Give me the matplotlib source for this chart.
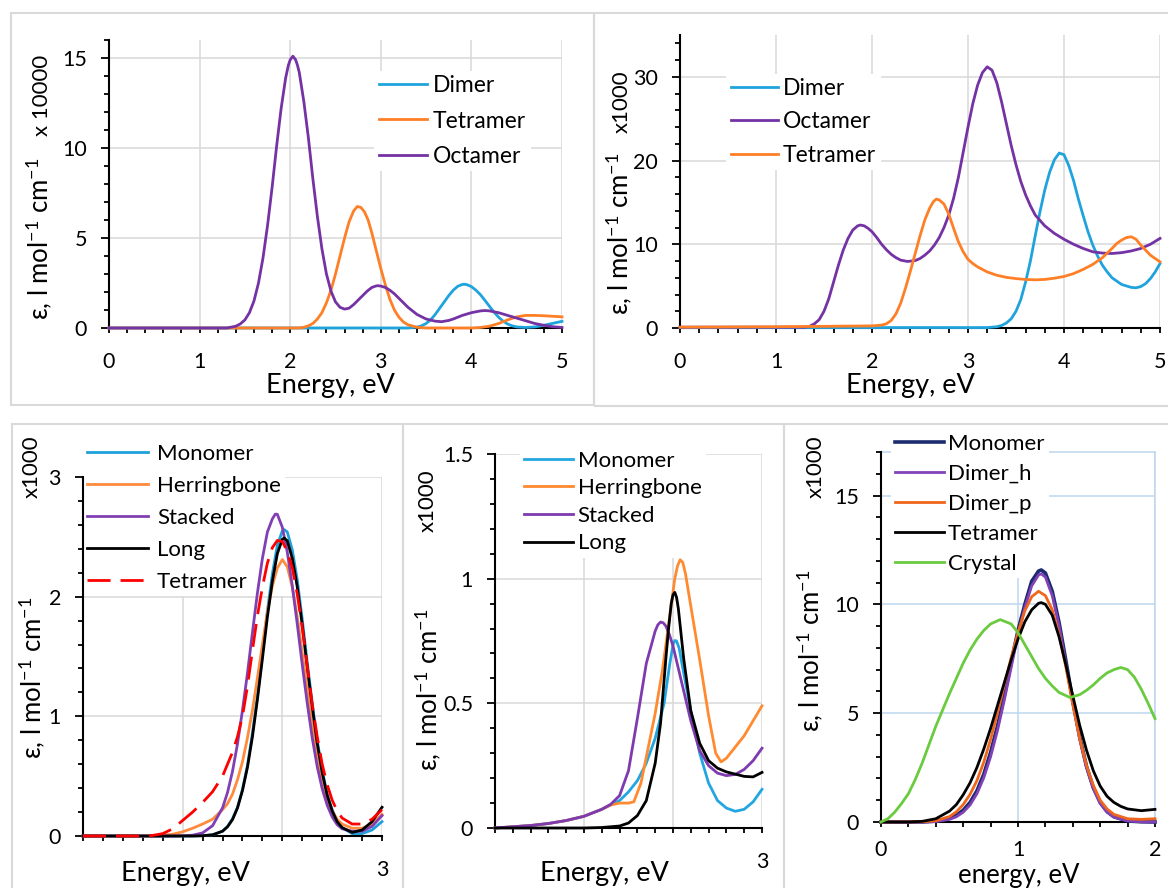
import matplotlib
matplotlib.use('Agg')
import matplotlib.pyplot as plt
from matplotlib.ticker import MultipleLocator, FuncFormatter
from matplotlib.patches import Rectangle

# ---------------- data: panel 1 (top-left), (energy eV, eps x10000) ----------------
p1_dimer = [(0, 0), (3.3, 0), (3.4, 0.05), (3.45, 0.12), (3.5, 0.25), (3.55, 0.45), (3.6, 0.75), (3.65, 1.1),
            (3.7, 1.45), (3.75, 1.8), (3.8, 2.1), (3.85, 2.32), (3.9, 2.42), (3.92, 2.43), (3.95, 2.41), (4.0, 2.3),
            (4.05, 2.1), (4.1, 1.85), (4.15, 1.53), (4.2, 1.2), (4.25, 0.88), (4.3, 0.6), (4.35, 0.38), (4.4, 0.22),
            (4.45, 0.12), (4.5, 0.06), (4.6, 0.03), (4.7, 0.06), (4.8, 0.15), (4.9, 0.26), (5.0, 0.37)]
p1_tetramer = [(0, 0), (2.1, 0), (2.15, 0.04), (2.2, 0.12), (2.25, 0.25), (2.3, 0.5), (2.35, 0.85), (2.4, 1.4),
               (2.45, 2.1), (2.5, 3.0), (2.55, 4.0), (2.6, 5.0), (2.65, 5.9), (2.7, 6.5), (2.74, 6.75), (2.78, 6.7),
               (2.82, 6.45), (2.86, 6.0), (2.9, 5.3), (2.95, 4.3), (3.0, 3.3), (3.05, 2.4), (3.1, 1.6), (3.15, 1.0),
               (3.2, 0.6), (3.25, 0.33), (3.3, 0.18), (3.4, 0.04), (3.5, 0), (4.0, 0), (4.1, 0.03), (4.2, 0.1),
               (4.3, 0.25), (4.4, 0.45), (4.5, 0.62), (4.6, 0.7), (4.7, 0.7), (4.8, 0.68), (4.9, 0.65), (5.0, 0.62)]
p1_octamer = [(0, 0), (1.3, 0), (1.4, 0.1), (1.45, 0.23), (1.5, 0.45), (1.55, 0.85), (1.6, 1.5), (1.65, 2.5),
              (1.7, 3.9), (1.75, 5.7), (1.8, 7.8), (1.85, 10.1), (1.9, 12.2), (1.95, 13.9), (1.98, 14.6), (2.0, 14.9),
              (2.03, 15.1), (2.06, 14.9), (2.08, 14.6), (2.1, 14.2), (2.15, 12.6), (2.2, 10.6), (2.25, 8.3),
              (2.3, 6.2), (2.35, 4.4), (2.4, 3.0), (2.45, 2.05), (2.5, 1.45), (2.55, 1.15), (2.6, 1.05), (2.65, 1.1),
              (2.7, 1.3), (2.75, 1.55), (2.8, 1.8), (2.85, 2.05), (2.9, 2.25), (2.95, 2.34), (2.97, 2.35),
              (3.0, 2.33), (3.05, 2.25), (3.1, 2.1), (3.15, 1.9), (3.2, 1.65), (3.3, 1.15), (3.4, 0.75), (3.5, 0.5),
              (3.6, 0.38), (3.67, 0.35), (3.75, 0.42), (3.8, 0.5), (3.9, 0.7), (4.0, 0.85), (4.1, 0.95),
              (4.15, 0.97), (4.2, 0.95), (4.3, 0.85), (4.4, 0.7), (4.5, 0.55), (4.6, 0.4), (4.7, 0.25), (4.8, 0.15),
              (4.9, 0.07), (5.0, 0.03)]

# ---------------- data: panel 2 (top-right), (energy eV, eps x1000) ----------------
p2_dimer = [(0, 0.05), (3.2, 0.05), (3.3, 0.15), (3.35, 0.3), (3.4, 0.6), (3.45, 1.1), (3.5, 2.0), (3.55, 3.4),
            (3.6, 5.5), (3.65, 8.0), (3.7, 11.0), (3.75, 13.9), (3.8, 16.5), (3.85, 18.6), (3.9, 20.1), (3.95, 20.9),
            (4.0, 20.7), (4.05, 19.4), (4.1, 17.6), (4.15, 15.4), (4.2, 13.4), (4.25, 11.5), (4.3, 9.9),
            (4.35, 8.6), (4.4, 7.5), (4.45, 6.7), (4.5, 6.0), (4.6, 5.2), (4.7, 4.85), (4.75, 4.8), (4.8, 4.95),
            (4.85, 5.3), (4.9, 5.9), (4.95, 6.7), (5.0, 7.7)]
p2_octamer = [(0, 0.1), (1.3, 0.1), (1.35, 0.2), (1.4, 0.5), (1.45, 1.0), (1.5, 2.0), (1.55, 3.5), (1.6, 5.5),
              (1.65, 7.5), (1.7, 9.3), (1.75, 10.7), (1.8, 11.7), (1.85, 12.2), (1.88, 12.3), (1.92, 12.2),
              (1.96, 11.9), (2.0, 11.5), (2.05, 10.8), (2.1, 10.0), (2.15, 9.35), (2.2, 8.8), (2.25, 8.4), (2.3, 8.1),
              (2.37, 7.95), (2.45, 8.05), (2.5, 8.3), (2.55, 8.7), (2.6, 9.2), (2.65, 9.9), (2.7, 10.8), (2.75, 12.0),
              (2.8, 13.5), (2.85, 15.5), (2.9, 18.0), (2.95, 21.0), (3.0, 24.0), (3.05, 26.8), (3.1, 29.0),
              (3.15, 30.5), (3.2, 31.2), (3.25, 30.8), (3.3, 29.3), (3.35, 27.0), (3.4, 24.4), (3.45, 21.8),
              (3.5, 19.5), (3.55, 17.5), (3.6, 15.9), (3.65, 14.6), (3.7, 13.5), (3.8, 12.2), (3.9, 11.3),
              (4.0, 10.6), (4.1, 10.0), (4.2, 9.5), (4.3, 9.1), (4.4, 8.95), (4.5, 8.9), (4.6, 9.0), (4.7, 9.2),
              (4.8, 9.5), (4.9, 10.0), (5.0, 10.7)]
p2_tetramer = [(0, 0.1), (1.0, 0.15), (2.0, 0.25), (2.1, 0.35), (2.15, 0.5), (2.2, 0.9), (2.25, 1.7), (2.3, 3.0),
               (2.35, 4.8), (2.4, 6.8), (2.45, 8.9), (2.5, 11.0), (2.55, 12.9), (2.6, 14.3), (2.64, 15.1),
               (2.67, 15.4), (2.7, 15.3), (2.75, 14.8), (2.8, 13.6), (2.85, 11.9), (2.9, 10.3), (2.95, 9.1),
               (3.0, 8.2), (3.05, 7.7), (3.1, 7.3), (3.2, 6.7), (3.3, 6.3), (3.4, 6.05), (3.5, 5.9), (3.6, 5.8),
               (3.7, 5.75), (3.8, 5.8), (3.9, 5.95), (4.0, 6.15), (4.1, 6.5), (4.2, 7.0), (4.3, 7.6), (4.4, 8.4),
               (4.5, 9.5), (4.55, 10.1), (4.6, 10.5), (4.65, 10.8), (4.7, 10.9), (4.75, 10.6), (4.8, 9.9),
               (4.85, 9.3), (4.9, 8.7), (5.0, 7.9)]

# ---------------- data: panel 3 (bottom-left), (energy eV, eps x1000) ----------------
p3_monomer = [(1.5, 0), (2.05, 0), (2.1, 0.003), (2.15, 0.01), (2.2, 0.04), (2.225, 0.08), (2.25, 0.145),
              (2.275, 0.24), (2.3, 0.39), (2.325, 0.59), (2.35, 0.86), (2.375, 1.17), (2.4, 1.52), (2.425, 1.88),
              (2.45, 2.19), (2.475, 2.43), (2.5, 2.55), (2.51, 2.56), (2.525, 2.54), (2.55, 2.39), (2.575, 2.14),
              (2.6, 1.81), (2.625, 1.45), (2.65, 1.11), (2.675, 0.8), (2.7, 0.55), (2.725, 0.35), (2.75, 0.22),
              (2.775, 0.12), (2.8, 0.07), (2.85, 0.02), (2.9, 0.02), (2.95, 0.05), (3.0, 0.12)]
p3_herringbone = [(1.5, 0), (1.85, 0), (1.9, 0.006), (1.95, 0.015), (2.0, 0.035), (2.05, 0.065), (2.1, 0.1),
                  (2.15, 0.14), (2.2, 0.22), (2.225, 0.27), (2.25, 0.35), (2.275, 0.47), (2.3, 0.62), (2.325, 0.82),
                  (2.35, 1.05), (2.375, 1.32), (2.4, 1.6), (2.425, 1.87), (2.45, 2.09), (2.475, 2.24), (2.5, 2.31),
                  (2.525, 2.25), (2.55, 2.08), (2.575, 1.83), (2.6, 1.53), (2.625, 1.22), (2.65, 0.92),
                  (2.675, 0.66), (2.7, 0.46), (2.725, 0.31), (2.75, 0.21), (2.775, 0.14), (2.8, 0.1),
                  (2.85, 0.065), (2.9, 0.065), (2.95, 0.1), (3.0, 0.18)]
p3_stacked = [(1.5, 0), (1.95, 0), (2.0, 0.002), (2.05, 0.007), (2.1, 0.026), (2.15, 0.086), (2.2, 0.235),
              (2.225, 0.364), (2.25, 0.54), (2.275, 0.77), (2.3, 1.05), (2.325, 1.36), (2.35, 1.7), (2.375, 2.03),
              (2.4, 2.32), (2.425, 2.54), (2.45, 2.65), (2.465, 2.69), (2.475, 2.688), (2.5, 2.58), (2.525, 2.37),
              (2.55, 2.09), (2.575, 1.77), (2.6, 1.43), (2.625, 1.11), (2.65, 0.82), (2.675, 0.58), (2.7, 0.395),
              (2.725, 0.257), (2.75, 0.16), (2.775, 0.095), (2.8, 0.06), (2.85, 0.04), (2.9, 0.04), (2.95, 0.08),
              (3.0, 0.17)]
p3_long = [(1.5, 0), (2.05, 0), (2.1, 0.002), (2.15, 0.01), (2.2, 0.04), (2.225, 0.077), (2.25, 0.137),
           (2.275, 0.234), (2.3, 0.38), (2.325, 0.574), (2.35, 0.83), (2.375, 1.14), (2.4, 1.48), (2.425, 1.83),
           (2.45, 2.13), (2.475, 2.36), (2.5, 2.48), (2.51, 2.49), (2.525, 2.466), (2.55, 2.32), (2.575, 2.08),
           (2.6, 1.76), (2.625, 1.41), (2.65, 1.08), (2.675, 0.775), (2.7, 0.53), (2.725, 0.34), (2.75, 0.21),
           (2.775, 0.12), (2.8, 0.07), (2.85, 0.03), (2.9, 0.05), (2.95, 0.12), (3.0, 0.24)]
p3_tetramer = [(1.5, 0), (1.8, 0), (1.85, 0.005), (1.9, 0.02), (1.95, 0.06), (2.0, 0.13), (2.05, 0.2), (2.1, 0.28),
               (2.15, 0.37), (2.2, 0.5), (2.25, 0.7), (2.275, 0.83), (2.3, 1.0), (2.325, 1.25), (2.35, 1.55),
               (2.375, 1.84), (2.4, 2.08), (2.425, 2.28), (2.45, 2.41), (2.475, 2.47), (2.5, 2.46), (2.525, 2.38),
               (2.55, 2.24), (2.575, 2.02), (2.6, 1.74), (2.625, 1.42), (2.65, 1.1), (2.675, 0.83), (2.7, 0.6),
               (2.725, 0.43), (2.75, 0.3), (2.775, 0.21), (2.8, 0.15), (2.85, 0.1), (2.9, 0.1), (2.95, 0.14),
               (3.0, 0.22)]

# ---------------- data: panel 4 (bottom-middle), (energy eV, eps x1000) ----------------
p4_monomer = [(1.5, 0.0), (1.6, 0.005), (1.7, 0.01), (1.8, 0.018), (1.9, 0.03), (2.0, 0.047), (2.1, 0.075),
              (2.2, 0.11), (2.25, 0.145), (2.3, 0.19), (2.35, 0.26), (2.4, 0.36), (2.45, 0.5), (2.48, 0.65),
              (2.5, 0.735), (2.51, 0.752), (2.52, 0.75), (2.535, 0.72), (2.55, 0.66), (2.575, 0.565), (2.6, 0.47),
              (2.65, 0.3), (2.7, 0.18), (2.75, 0.11), (2.8, 0.08), (2.85, 0.067), (2.9, 0.075), (2.95, 0.105),
              (3.0, 0.155)]
p4_herringbone = [(1.5, 0.0), (1.6, 0.005), (1.7, 0.01), (1.8, 0.018), (1.9, 0.03), (2.0, 0.047), (2.1, 0.075),
                  (2.15, 0.092), (2.2, 0.1), (2.25, 0.1), (2.28, 0.105), (2.32, 0.18), (2.36, 0.32), (2.4, 0.46),
                  (2.44, 0.63), (2.48, 0.84), (2.51, 1.0), (2.525, 1.05), (2.54, 1.076), (2.555, 1.065),
                  (2.57, 1.02), (2.6, 0.89), (2.65, 0.675), (2.7, 0.45), (2.74, 0.3), (2.77, 0.265), (2.8, 0.28),
                  (2.9, 0.37), (3.0, 0.49)]
p4_stacked = [(1.5, 0.0), (1.6, 0.005), (1.7, 0.01), (1.8, 0.018), (1.9, 0.03), (2.0, 0.047), (2.1, 0.075),
              (2.15, 0.095), (2.2, 0.13), (2.25, 0.23), (2.3, 0.44), (2.35, 0.66), (2.4, 0.79), (2.415, 0.815),
              (2.43, 0.826), (2.445, 0.823), (2.46, 0.81), (2.48, 0.775), (2.5, 0.73), (2.55, 0.58), (2.6, 0.43),
              (2.65, 0.31), (2.7, 0.25), (2.75, 0.22), (2.8, 0.21), (2.85, 0.215), (2.9, 0.235), (2.95, 0.27),
              (3.0, 0.32)]
p4_long = [(1.5, 0.0), (2.0, 0.0), (2.1, 0.002), (2.2, 0.008), (2.25, 0.02), (2.3, 0.05), (2.35, 0.11), (2.4, 0.26),
           (2.43, 0.42), (2.46, 0.68), (2.475, 0.8), (2.49, 0.9), (2.5, 0.935), (2.51, 0.945), (2.52, 0.925),
           (2.53, 0.88), (2.545, 0.78), (2.56, 0.68), (2.6, 0.47), (2.65, 0.34), (2.7, 0.27), (2.75, 0.24),
           (2.8, 0.225), (2.9, 0.207), (2.95, 0.205), (3.0, 0.223)]

# ---------------- data: panel 5 (bottom-right), (energy eV, eps x1000) ----------------
p5_monomer = [(0, 0), (0.3, 0), (0.4, 0.04), (0.5, 0.17), (0.55, 0.31), (0.6, 0.54), (0.65, 0.9), (0.7, 1.43),
              (0.75, 2.19), (0.8, 3.2), (0.85, 4.4), (0.9, 5.8), (0.95, 7.33), (1.0, 8.8), (1.05, 10.0),
              (1.1, 11.06), (1.15, 11.53), (1.17, 11.58), (1.2, 11.44), (1.25, 10.6), (1.3, 9.16), (1.35, 7.4),
              (1.4, 5.56), (1.45, 3.91), (1.5, 2.56), (1.55, 1.57), (1.6, 0.9), (1.65, 0.48), (1.7, 0.24),
              (1.8, 0.05), (1.9, 0.01), (2.0, 0.0)]
p5_dimer_h = [(0, 0), (0.3, 0), (0.4, 0.02), (0.5, 0.12), (0.55, 0.24), (0.6, 0.45), (0.65, 0.78), (0.7, 1.3),
              (0.75, 2.03), (0.8, 3.0), (0.85, 4.2), (0.9, 5.6), (0.95, 7.1), (1.0, 8.6), (1.05, 9.85),
              (1.1, 10.85), (1.15, 11.35), (1.17, 11.4), (1.2, 11.25), (1.25, 10.4), (1.3, 9.0), (1.35, 7.25),
              (1.4, 5.45), (1.45, 3.82), (1.5, 2.5), (1.55, 1.53), (1.6, 0.85), (1.65, 0.45), (1.7, 0.22),
              (1.8, 0.05), (1.9, 0.01), (2.0, 0)]
p5_dimer_p = [(0, 0), (0.3, 0.01), (0.4, 0.06), (0.5, 0.25), (0.55, 0.47), (0.6, 0.8), (0.65, 1.27), (0.7, 1.9),
              (0.75, 2.75), (0.8, 3.8), (0.85, 5.0), (0.9, 6.3), (0.95, 7.55), (1.0, 8.7), (1.05, 9.7),
              (1.1, 10.35), (1.15, 10.6), (1.2, 10.4), (1.25, 9.75), (1.3, 8.6), (1.35, 7.1), (1.4, 5.4),
              (1.45, 3.85), (1.5, 2.6), (1.55, 1.68), (1.6, 1.0), (1.65, 0.6), (1.7, 0.35), (1.8, 0.15),
              (1.9, 0.12), (2.0, 0.15)]
p5_tetramer = [(0, 0), (0.2, 0), (0.3, 0.03), (0.4, 0.15), (0.5, 0.5), (0.55, 0.8), (0.6, 1.25), (0.65, 1.8),
               (0.7, 2.5), (0.75, 3.35), (0.8, 4.3), (0.85, 5.35), (0.9, 6.4), (0.95, 7.45), (1.0, 8.4), (1.05, 9.2),
               (1.1, 9.75), (1.15, 10.05), (1.17, 10.08), (1.2, 10.0), (1.25, 9.5), (1.3, 8.5), (1.35, 7.2),
               (1.4, 5.8), (1.45, 4.45), (1.5, 3.3), (1.55, 2.35), (1.6, 1.65), (1.65, 1.18), (1.7, 0.9),
               (1.75, 0.72), (1.8, 0.6), (1.9, 0.52), (2.0, 0.58)]
p5_crystal = [(0, 0), (0.05, 0.15), (0.1, 0.45), (0.15, 0.85), (0.2, 1.3), (0.25, 1.95), (0.3, 2.7), (0.35, 3.55),
              (0.4, 4.4), (0.45, 5.15), (0.5, 5.9), (0.55, 6.6), (0.6, 7.3), (0.65, 7.9), (0.7, 8.4), (0.75, 8.8),
              (0.8, 9.1), (0.87, 9.3), (0.95, 9.1), (1.0, 8.7), (1.05, 8.15), (1.1, 7.6), (1.15, 7.05), (1.2, 6.6),
              (1.25, 6.25), (1.3, 5.95), (1.38, 5.72), (1.45, 5.85), (1.5, 6.05), (1.55, 6.3), (1.6, 6.6),
              (1.65, 6.85), (1.7, 7.0), (1.75, 7.1), (1.8, 7.0), (1.85, 6.65), (1.9, 6.1), (1.95, 5.45),
              (2.0, 4.75)]

# ---------------- style ----------------
plt.rcParams['font.family'] = ['Lato', 'DejaVu Sans']
plt.rcParams['mathtext.fontset'] = 'custom'
plt.rcParams['mathtext.rm'] = 'Lato'
plt.rcParams['mathtext.it'] = 'Lato:italic'
plt.rcParams['mathtext.bf'] = 'Lato:bold'

W, H = 1168, 888
fig = plt.figure(figsize=(W / 100, H / 100), dpi=100)
fig.patch.set_facecolor('white')

GRID = '#D9D9D9'
LW = 2.0
TICK_FS = 15.5
TITLE_FS = 19.5
YLAB_FS = 18.5
MULT_FS = 16
YLAB = 'ε, l mol$^{\\mathregular{-1}}$ cm$^{\\mathregular{-1}}$'


def px_axes(l, r, t, b):
    return fig.add_axes([l / W, 1 - b / H, (r - l) / W, (b - t) / H])


def frame(x1, y1, x2, y2):
    fig.add_artist(Rectangle((x1 / W, 1 - y2 / H), (x2 - x1) / W, (y2 - y1) / H,
                             transform=fig.transFigure, fill=False,
                             edgecolor='#D9D9D9', lw=1.5, zorder=0))


def style(ax, xlim, ylim, xmaj, xmin, ymaj, ymin, grid=GRID, xpad=14, xfmt=None):
    ax.set_xlim(*xlim)
    ax.set_ylim(*ylim)
    ax.xaxis.set_major_locator(MultipleLocator(xmaj))
    ax.xaxis.set_minor_locator(MultipleLocator(xmin))
    ax.yaxis.set_major_locator(MultipleLocator(ymaj))
    ax.yaxis.set_minor_locator(MultipleLocator(ymin))
    ax.yaxis.set_major_formatter(FuncFormatter(lambda v, p: f'{v:g}'))
    if xfmt is None:
        ax.xaxis.set_major_formatter(FuncFormatter(lambda v, p: f'{v:g}'))
    else:
        ax.xaxis.set_major_formatter(FuncFormatter(xfmt))
    for s in ['top', 'right']:
        ax.spines[s].set_visible(False)
    for s in ['left', 'bottom']:
        ax.spines[s].set_linewidth(1.5)
        ax.spines[s].set_color('black')
    ax.tick_params(axis='y', which='major', direction='out', length=5.8, width=1.3,
                   labelsize=TICK_FS, pad=10, color='black')
    ax.tick_params(axis='y', which='minor', direction='out', length=3.6, width=1.3, color='black')
    ax.tick_params(axis='x', which='both', direction='out', length=3.6, width=1.3,
                   labelsize=TICK_FS, pad=xpad, color='black')
    ax.grid(True, which='major', color=grid, lw=1.1)
    ax.set_axisbelow(True)
    ax.set_facecolor('none')


def legend(ax, x_px, y_px, fs, hl, htp, ls):
    fspx = fs * 100 / 72
    bp = 0.2
    leg = ax.legend(loc='center left',
                    bbox_to_anchor=((x_px - bp * fspx) / W, 1 - y_px / H),
                    bbox_transform=fig.transFigure, fontsize=fs,
                    handlelength=hl, handletextpad=htp, labelspacing=ls,
                    borderpad=bp, borderaxespad=0, frameon=True, fancybox=False,
                    framealpha=1, facecolor='white', edgecolor='none')
    leg.set_zorder(1)
    return leg


def ylabels(xm, ym, xx, yx, mult):
    fig.text(xm / W, 1 - ym / H, YLAB, rotation=90, ha='center', va='center', fontsize=YLAB_FS)
    fig.text(xx / W, 1 - yx / H, mult, rotation=90, ha='center', va='center', fontsize=MULT_FS)


def xtitle(x, y, s, fs=TITLE_FS):
    fig.text(x / W, 1 - y / H, s, ha='center', va='baseline', fontsize=fs)


def curve(ax, pts, **kw):
    xs = [p[0] for p in pts]
    ys = [p[1] for p in pts]
    ax.plot(xs, ys, zorder=3, clip_on=False, solid_joinstyle='round', **kw)


# panel frames
frame(11, 13, 594, 405)
frame(594, 13, 1175, 406)
frame(12, 424, 403, 895)
frame(403, 424, 784, 895)
frame(784, 424, 1175, 895)

C_BLUE = '#1FA3DD'
C_ORANGE = '#FF7F27'
C_PURPLE = '#7432A4'

# ---------- Panel 1 ----------
ax1 = px_axes(109, 562, 40, 328)
curve(ax1, p1_dimer, color=C_BLUE, lw=LW, label='Dimer')
curve(ax1, p1_tetramer, color=C_ORANGE, lw=LW, label='Tetramer')
curve(ax1, p1_octamer, color=C_PURPLE, lw=LW, label='Octamer')
style(ax1, (0, 5), (0, 16), 1, 0.2, 5, 1)
legend(ax1, 379, 121, 16.5, 2.1, 0.26, 0.62)
ylabels(39, 239, 42, 95, 'x 10000')
xtitle(330, 393, 'Energy, eV')

# ---------- Panel 2 ----------
ax2 = px_axes(680, 1160, 35, 328)
curve(ax2, p2_dimer, color=C_BLUE, lw=LW, label='Dimer')
curve(ax2, p2_octamer, color=C_PURPLE, lw=LW, label='Octamer')
curve(ax2, p2_tetramer, color=C_ORANGE, lw=LW, label='Tetramer')
style(ax2, (0, 5), (0, 35), 1, 0.2, 10, 2)
legend(ax2, 731, 122, 16.5, 2.05, 0.22, 0.535)
ylabels(619, 234, 622, 102, 'x1000')
xtitle(910, 393, 'Energy, eV')

# ---------- Panel 3 ----------
only3 = lambda v, p: '3' if abs(v - 3) < 1e-6 else ''
ax3 = px_axes(83, 382, 477, 836)
curve(ax3, p3_monomer, color='#1FA0DB', lw=LW, label='Monomer')
curve(ax3, p3_herringbone, color='#FF8B3D', lw=LW, label='Herringbone')
curve(ax3, p3_stacked, color='#8040B3', lw=LW, label='Stacked')
curve(ax3, p3_long, color='black', lw=LW, label='Long')
curve(ax3, p3_tetramer, color='#FF0000', lw=LW, ls=(0, (8.3, 3.6)), label='Tetramer')
style(ax3, (1.5, 3), (0, 3), 0.5, 0.1, 1, 0.2, xfmt=only3)
legend(ax3, 87, 518, 16, 2.75, 0.4, 0.54)
ylabels(32, 678, 32, 467, 'x1000')
xtitle(185, 881, 'Energy, eV')

# ---------- Panel 4 ----------
ax4 = px_axes(495, 762, 454, 828)
curve(ax4, p4_monomer, color='#22A6E0', lw=LW, label='Monomer')
curve(ax4, p4_herringbone, color='#FF8A30', lw=LW, label='Herringbone')
curve(ax4, p4_stacked, color='#7E3AAE', lw=LW, label='Stacked')
curve(ax4, p4_long, color='black', lw=LW, label='Long')
style(ax4, (1.5, 3), (0, 1.5), 0.5, 0.1, 0.5, 0.1, xfmt=only3)
legend(ax4, 524, 502, 16, 2.2, 0.22, 0.34)
ylabels(428, 690, 428, 501, 'x1000')
xtitle(604, 881, 'Energy, eV')

# ---------- Panel 5 ----------
ax5 = px_axes(881, 1155, 452, 822)
curve(ax5, p5_monomer, color='#1C2B6E', lw=LW + 0.6, label='Monomer')
curve(ax5, p5_dimer_h, color='#8142B8', lw=LW, label='Dimer_h')
curve(ax5, p5_dimer_p, color='#F0661C', lw=LW, label='Dimer_p')
curve(ax5, p5_tetramer, color='black', lw=LW, label='Tetramer')
curve(ax5, p5_crystal, color='#6ACB3F', lw=LW, label='Crystal')
style(ax5, (0, 2), (0, 17), 1, 0.2, 5, 1, grid='#BDD7EE', xpad=9)
for s in ['top', 'right']:
    ax5.spines[s].set_visible(True)
    ax5.spines[s].set_color('#BDD7EE')
    ax5.spines[s].set_linewidth(1.1)
    ax5.spines[s].set_zorder(0.6)
legend(ax5, 895, 503.5, 16, 2.2, 0.18, 0.45)
ylabels(810, 651, 816, 467, 'x1000')
xtitle(1019, 883, 'energy, eV', fs=18.5)

fig.savefig('out.png', dpi=100, facecolor='white')
